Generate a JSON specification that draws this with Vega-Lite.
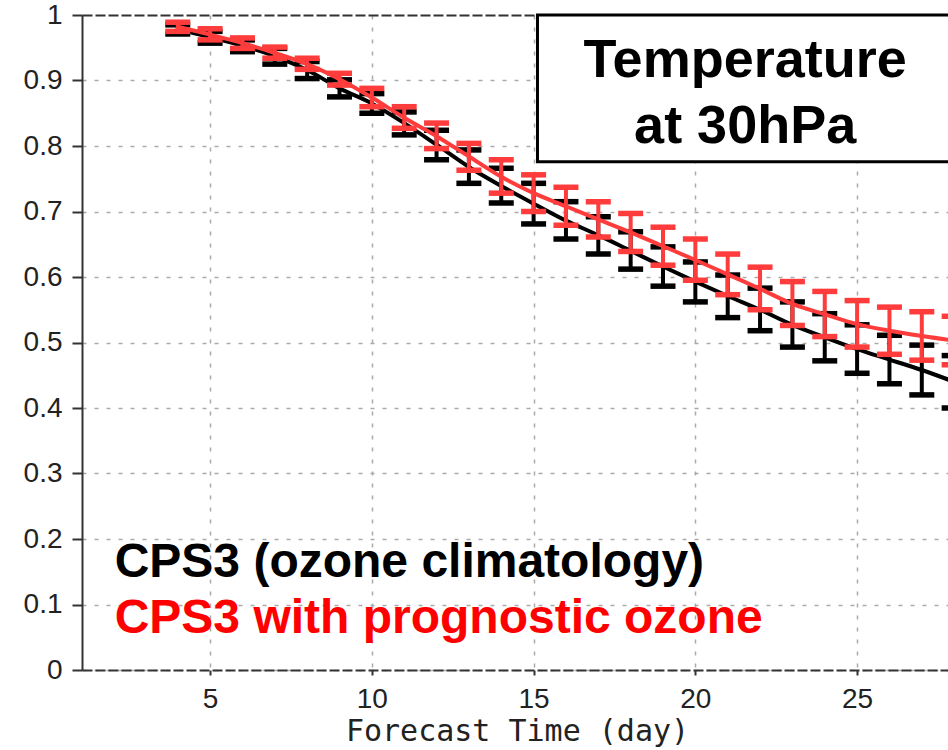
{
  "$schema": "https://vega.github.io/schema/vega-lite/v6.json",
  "width": 866,
  "height": 655,
  "autosize": {"type": "none"},
  "padding": {"left": 82, "top": 15, "right": 0, "bottom": 80},
  "background": "white",
  "config": {
    "view": {"stroke": null},
    "axis": {"labelFont": "Liberation Sans", "labelFontSize": 28, "labelColor": "#222", "titleColor": "#222"}
  },
  "datasets": {
    "scores": [
      {"day": 4, "s": "clim", "m": 0.978, "lo": 0.971, "hi": 0.985},
      {"day": 5, "s": "clim", "m": 0.966, "lo": 0.957, "hi": 0.975},
      {"day": 6, "s": "clim", "m": 0.953, "lo": 0.944, "hi": 0.962},
      {"day": 7, "s": "clim", "m": 0.937, "lo": 0.925, "hi": 0.949},
      {"day": 8, "s": "clim", "m": 0.916, "lo": 0.903, "hi": 0.929},
      {"day": 9, "s": "clim", "m": 0.888, "lo": 0.875, "hi": 0.901},
      {"day": 10, "s": "clim", "m": 0.865, "lo": 0.850, "hi": 0.880},
      {"day": 11, "s": "clim", "m": 0.835, "lo": 0.817, "hi": 0.852},
      {"day": 12, "s": "clim", "m": 0.802, "lo": 0.779, "hi": 0.824},
      {"day": 13, "s": "clim", "m": 0.768, "lo": 0.743, "hi": 0.794},
      {"day": 14, "s": "clim", "m": 0.739, "lo": 0.713, "hi": 0.766},
      {"day": 15, "s": "clim", "m": 0.712, "lo": 0.681, "hi": 0.743},
      {"day": 16, "s": "clim", "m": 0.686, "lo": 0.658, "hi": 0.715},
      {"day": 17, "s": "clim", "m": 0.664, "lo": 0.635, "hi": 0.692},
      {"day": 18, "s": "clim", "m": 0.640, "lo": 0.612, "hi": 0.669},
      {"day": 19, "s": "clim", "m": 0.616, "lo": 0.586, "hi": 0.646},
      {"day": 20, "s": "clim", "m": 0.593, "lo": 0.562, "hi": 0.623},
      {"day": 21, "s": "clim", "m": 0.571, "lo": 0.538, "hi": 0.603},
      {"day": 22, "s": "clim", "m": 0.550, "lo": 0.518, "hi": 0.583},
      {"day": 23, "s": "clim", "m": 0.527, "lo": 0.493, "hi": 0.562},
      {"day": 24, "s": "clim", "m": 0.508, "lo": 0.472, "hi": 0.544},
      {"day": 25, "s": "clim", "m": 0.490, "lo": 0.453, "hi": 0.527},
      {"day": 26, "s": "clim", "m": 0.474, "lo": 0.437, "hi": 0.511},
      {"day": 27, "s": "clim", "m": 0.458, "lo": 0.420, "hi": 0.496},
      {"day": 28, "s": "clim", "m": 0.440, "lo": 0.400, "hi": 0.480},
      {"day": 4, "s": "prog", "m": 0.982, "lo": 0.975, "hi": 0.989},
      {"day": 5, "s": "prog", "m": 0.970, "lo": 0.962, "hi": 0.979},
      {"day": 6, "s": "prog", "m": 0.957, "lo": 0.949, "hi": 0.965},
      {"day": 7, "s": "prog", "m": 0.942, "lo": 0.934, "hi": 0.951},
      {"day": 8, "s": "prog", "m": 0.925, "lo": 0.917, "hi": 0.934},
      {"day": 9, "s": "prog", "m": 0.902, "lo": 0.893, "hi": 0.911},
      {"day": 10, "s": "prog", "m": 0.874, "lo": 0.860, "hi": 0.888},
      {"day": 11, "s": "prog", "m": 0.843, "lo": 0.827, "hi": 0.860},
      {"day": 12, "s": "prog", "m": 0.815, "lo": 0.796, "hi": 0.835},
      {"day": 13, "s": "prog", "m": 0.784, "lo": 0.763, "hi": 0.804},
      {"day": 14, "s": "prog", "m": 0.753, "lo": 0.728, "hi": 0.779},
      {"day": 15, "s": "prog", "m": 0.728, "lo": 0.700, "hi": 0.756},
      {"day": 16, "s": "prog", "m": 0.708, "lo": 0.679, "hi": 0.737},
      {"day": 17, "s": "prog", "m": 0.688, "lo": 0.661, "hi": 0.715},
      {"day": 18, "s": "prog", "m": 0.668, "lo": 0.639, "hi": 0.697},
      {"day": 19, "s": "prog", "m": 0.647, "lo": 0.618, "hi": 0.676},
      {"day": 20, "s": "prog", "m": 0.626, "lo": 0.595, "hi": 0.658},
      {"day": 21, "s": "prog", "m": 0.604, "lo": 0.573, "hi": 0.635},
      {"day": 22, "s": "prog", "m": 0.582, "lo": 0.550, "hi": 0.615},
      {"day": 23, "s": "prog", "m": 0.559, "lo": 0.526, "hi": 0.593},
      {"day": 24, "s": "prog", "m": 0.543, "lo": 0.509, "hi": 0.578},
      {"day": 25, "s": "prog", "m": 0.528, "lo": 0.493, "hi": 0.564},
      {"day": 26, "s": "prog", "m": 0.518, "lo": 0.482, "hi": 0.554},
      {"day": 27, "s": "prog", "m": 0.510, "lo": 0.473, "hi": 0.547},
      {"day": 28, "s": "prog", "m": 0.503, "lo": 0.466, "hi": 0.540}
    ]
  },
  "layer": [
    {
      "data": {"values": [{}]},
      "mark": {"type": "rect", "fill": "white", "stroke": "black", "strokeWidth": 3},
      "encoding": {
        "x": {
          "datum": 15.12, "type": "quantitative",
          "scale": {"domain": [1.04, 27.81], "nice": false, "zero": false},
          "axis": {
            "values": [5, 10, 15, 20, 25],
            "title": "Forecast Time (day)",
            "titleFont": "DejaVu Sans Mono", "titleFontSize": 30, "titleFontWeight": "normal",
            "titleX": 435, "titleY": 70, "titleAlign": "center", "titleBaseline": "alphabetic",
            "domainColor": "#333", "domainWidth": 2, "domainDash": [10, 3],
            "tickColor": "#333", "tickSize": 5, "tickWidth": 2,
            "labelPadding": 10,
            "grid": true, "gridColor": "#aaa", "gridDash": [4, 8], "gridWidth": 1.5
          }
        },
        "x2": {"datum": 30},
        "y": {
          "datum": 0.776, "type": "quantitative",
          "scale": {"domain": [0, 1], "nice": false},
          "axis": {
            "values": [0, 0.1, 0.2, 0.3, 0.4, 0.5, 0.6, 0.7, 0.8, 0.9, 1],
            "format": "~g",
            "title": "",
            "domainColor": "#333", "domainWidth": 2,
            "tickColor": "#333", "tickSize": 10, "tickWidth": 2,
            "labelPadding": 10,
            "grid": true,
            "gridColor": {"condition": {"test": "datum.value === 1", "value": "#333"}, "value": "#aaa"},
            "gridDash": {"condition": {"test": "datum.value === 1", "value": [10, 3]}, "value": [4, 8]},
            "gridWidth": {"condition": {"test": "datum.value === 1", "value": 2}, "value": 1.5}
          }
        },
        "y2": {"datum": 1}
      }
    },
    {
      "data": {"name": "scores"},
      "transform": [{"filter": "datum.s === 'clim'"}],
      "encoding": {
        "x": {"field": "day", "type": "quantitative", "axis": {"title": "Forecast Time (day)"}}
      },
      "layer": [
        {"mark": {"type": "rule", "color": "black", "strokeWidth": 4},
         "encoding": {"y": {"field": "lo", "type": "quantitative", "axis": {"title": ""}}, "y2": {"field": "hi"}}},
        {"mark": {"type": "tick", "orient": "horizontal", "color": "black", "size": 25, "thickness": 5.5, "opacity": 1},
         "encoding": {"y": {"field": "lo", "type": "quantitative", "axis": {"title": ""}}}},
        {"mark": {"type": "tick", "orient": "horizontal", "color": "black", "size": 25, "thickness": 5.5, "opacity": 1},
         "encoding": {"y": {"field": "hi", "type": "quantitative", "axis": {"title": ""}}}},
        {"mark": {"type": "line", "color": "black", "strokeWidth": 4, "interpolate": "monotone"},
         "encoding": {"y": {"field": "m", "type": "quantitative", "axis": {"title": ""}}}}
      ]
    },
    {
      "data": {"name": "scores"},
      "transform": [{"filter": "datum.s === 'prog'"}],
      "encoding": {
        "x": {"field": "day", "type": "quantitative", "axis": {"title": "Forecast Time (day)"}}
      },
      "layer": [
        {"mark": {"type": "rule", "color": "#ff3c3c", "strokeWidth": 4},
         "encoding": {"y": {"field": "lo", "type": "quantitative", "axis": {"title": ""}}, "y2": {"field": "hi"}}},
        {"mark": {"type": "tick", "orient": "horizontal", "color": "#ff3c3c", "size": 25, "thickness": 5.5, "opacity": 1},
         "encoding": {"y": {"field": "lo", "type": "quantitative", "axis": {"title": ""}}}},
        {"mark": {"type": "tick", "orient": "horizontal", "color": "#ff3c3c", "size": 25, "thickness": 5.5, "opacity": 1},
         "encoding": {"y": {"field": "hi", "type": "quantitative", "axis": {"title": ""}}}},
        {"mark": {"type": "line", "color": "#ff3c3c", "strokeWidth": 4, "interpolate": "monotone"},
         "encoding": {"y": {"field": "m", "type": "quantitative", "axis": {"title": ""}}}}
      ]
    },
    {
      "data": {"values": [{}]},
      "mark": {"type": "text", "font": "Liberation Sans", "fontWeight": "bold", "fontSize": 48, "align": "left", "baseline": "alphabetic", "color": "black"},
      "encoding": {
        "x": {"datum": 2.05, "type": "quantitative"},
        "y": {"datum": 0.1424, "type": "quantitative"},
        "text": {"value": "CPS3 (ozone climatology)"}
      }
    },
    {
      "data": {"values": [{}]},
      "mark": {"type": "text", "font": "Liberation Sans", "fontWeight": "bold", "fontSize": 48, "align": "left", "baseline": "alphabetic", "color": "#ff0000"},
      "encoding": {
        "x": {"datum": 2.05, "type": "quantitative"},
        "y": {"datum": 0.057, "type": "quantitative"},
        "text": {"value": "CPS3 with prognostic ozone"}
      }
    },
    {
      "data": {"values": [{}]},
      "mark": {"type": "text", "font": "Liberation Sans", "fontWeight": "bold", "fontSize": 54, "align": "center", "baseline": "alphabetic", "color": "black"},
      "encoding": {
        "x": {"datum": 21.54, "type": "quantitative"},
        "y": {"datum": 0.9058, "type": "quantitative"},
        "text": {"value": "Temperature"}
      }
    },
    {
      "data": {"values": [{}]},
      "mark": {"type": "text", "font": "Liberation Sans", "fontWeight": "bold", "fontSize": 54, "align": "center", "baseline": "alphabetic", "color": "black"},
      "encoding": {
        "x": {"datum": 21.54, "type": "quantitative"},
        "y": {"datum": 0.804, "type": "quantitative"},
        "text": {"value": "at 30hPa"}
      }
    }
  ]
}
